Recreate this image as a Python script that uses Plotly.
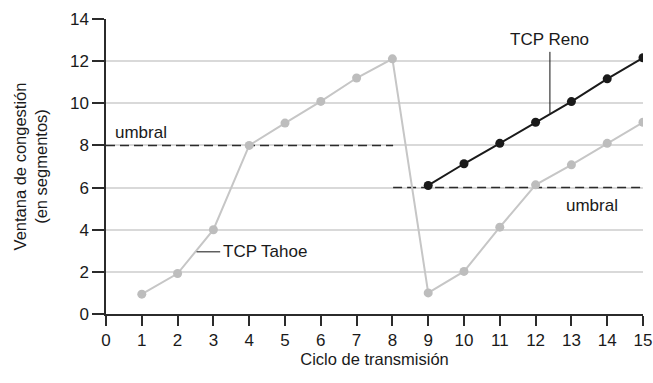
import plotly.graph_objects as go

# Transmission rounds and congestion window (segments)
rounds = list(range(1, 16))
tahoe_cwnd = [0.94, 1.92, 4.0, 8.0, 9.06, 10.09, 11.2, 12.11,
              1.0, 2.02, 4.12, 6.13, 7.08, 8.1, 9.1]
reno_rounds = list(range(9, 16))
reno_cwnd = [6.1, 7.13, 8.1, 9.1, 10.08, 11.16, 12.16]

# Threshold (umbral) segments
thresh1_x = [0, 8.02]
thresh1_y = [8, 8]
thresh2_x = [8.02, 15]
thresh2_y = [6, 6]

x_ticks = list(range(0, 16))
y_ticks = list(range(0, 15, 2))

FONT = "Liberation Sans, Arial, Helvetica, sans-serif"
DARK = "#2b2b2b"
GRAY_LINE = "#c6c6c6"
GRAY_MARK = "#bdbdbd"

fig = go.Figure()

for xs, ys in [(thresh1_x, thresh1_y), (thresh2_x, thresh2_y)]:
    fig.add_trace(go.Scatter(
        x=xs, y=ys, mode="lines",
        line=dict(color=DARK, width=1.6, dash="9px,5px"),
        hoverinfo="skip", showlegend=False,
    ))

fig.add_trace(go.Scatter(
    x=rounds, y=tahoe_cwnd, mode="lines+markers", name="TCP Tahoe",
    line=dict(color=GRAY_LINE, width=2),
    marker=dict(color=GRAY_MARK, size=9),
    showlegend=False,
))

fig.add_trace(go.Scatter(
    x=reno_rounds, y=reno_cwnd, mode="lines+markers", name="TCP Reno",
    line=dict(color="#1a1a1a", width=2),
    marker=dict(color="#1a1a1a", size=9),
    showlegend=False,
))

# Leader lines for the series labels
fig.add_shape(type="line", x0=2.53, x1=3.19, y0=2.95, y1=2.95,
              line=dict(color="#111111", width=1))
fig.add_shape(type="line", x0=12.4, x1=12.4, y0=12.44, y1=9.52,
              line=dict(color="#111111", width=1))

label_font = dict(family=FONT, size=17, color="#1a1a1a")
fig.add_annotation(x=3.22, y=2.95, text="TCP Tahoe", showarrow=False,
                   xanchor="left", yanchor="middle", font=label_font)
fig.add_annotation(x=12.38, y=13.03, text="TCP Reno", showarrow=False,
                   xanchor="center", yanchor="middle", font=label_font)
fig.add_annotation(x=0.2, y=8.62, text="umbral", showarrow=False,
                   xanchor="left", yanchor="middle", font=label_font)
fig.add_annotation(x=13.58, y=5.16, text="umbral", showarrow=False,
                   xanchor="center", yanchor="middle", font=label_font)

fig.update_layout(
    width=653, height=383,
    margin=dict(l=106, r=10, t=19, b=69, autoexpand=False),
    paper_bgcolor="white", plot_bgcolor="white",
    font=dict(family=FONT, size=17, color="#1a1a1a"),
)

fig.update_xaxes(
    range=[0, 15], tickvals=x_ticks, ticktext=[str(v) for v in x_ticks],
    showgrid=False, zeroline=False, automargin=False,
    showline=True, linecolor=DARK, linewidth=1.5,
    ticks="outside", ticklen=10, tickwidth=1.5, tickcolor=DARK,
    ticklabeloverflow="allow",
    title=dict(text="Ciclo de transmisión", font=dict(size=16.5), standoff=2),
)
fig.update_yaxes(
    range=[0, 14], tickvals=y_ticks, ticktext=[str(v) for v in y_ticks],
    showgrid=True, gridcolor="#d9d9d9", gridwidth=1.5, zeroline=False,
    automargin=False,
    showline=True, linecolor=DARK, linewidth=1.5,
    ticks="outside", ticklen=12, tickwidth=1.5, tickcolor=DARK,
    title=dict(text="Ventana de congestión<br>(en segmentos)", font=dict(size=16.5), standoff=18),
)

fig.write_html("out.html")
